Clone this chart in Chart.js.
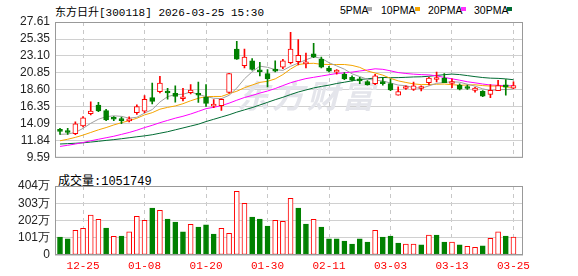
<!DOCTYPE html>
<html>
<head>
<meta charset="utf-8">
<script src="https://cdn.jsdelivr.net/npm/chart.js@4.4.1/dist/chart.umd.min.js"></script>
<style>
  body { margin: 0; background: #fff; width: 578px; height: 276px; overflow: hidden; position: relative; }
  canvas { position: absolute; left: 0; }
  #kline { top: 0; }
  #vol { top: 170px; }
  .txt { position: absolute; white-space: nowrap; color: #000; line-height: 1; }
  #title { left: 55px; top: 3px; font: 11px "Liberation Mono", "Noto Sans CJK SC", monospace; }
  .lg { top: 4px; font: 10.5px "Liberation Sans", Arial, sans-serif; }
  .sq { position: absolute; top: 7px; width: 5px; height: 4px; }
  #volTitle { left: 58px; top: 171px; font: 12px "Liberation Mono", "Noto Sans CJK SC", monospace; }
</style>
</head>
<body>
<div class="txt" id="title">东方日升[300118] 2026-03-25 15:30</div>
<div class="txt lg" style="left:340px">5PMA</div><div class="sq" style="left:367px;background:#a8a8a8"></div>
<div class="txt lg" style="left:381px">10PMA</div><div class="sq" style="left:415px;background:#f5a500"></div>
<div class="txt lg" style="left:428px">20PMA</div><div class="sq" style="left:461px;background:#ff30ff"></div>
<div class="txt lg" style="left:474px">30PMA</div><div class="sq" style="left:507px;background:#006b33"></div>
<div class="txt" id="volTitle">成交量:1051749</div>
<canvas id="kline" width="578" height="170"></canvas>
<canvas id="vol" width="578" height="106"></canvas>
<script>
// Trading days shown
const dates = ['12-22','12-23','12-24','12-25','12-26','12-29','12-30','12-31','01-05','01-06',
  '01-07','01-08','01-09','01-12','01-13','01-14','01-15','01-16','01-19','01-20',
  '01-21','01-22','01-23','01-26','01-27','01-28','01-29','01-30','02-02','02-03',
  '02-04','02-05','02-06','02-09','02-10','02-11','02-12','02-13','02-24','02-25',
  '02-26','02-27','03-02','03-03','03-04','03-05','03-06','03-09','03-10','03-11',
  '03-12','03-13','03-16','03-17','03-18','03-19','03-20','03-23','03-24','03-25'];
const tickDates = ['12-25','01-08','01-20','01-30','02-11','03-03','03-13','03-25'];

const opens = [13.30,13.15,12.78,13.82,15.45,16.57,15.86,14.82,14.74,14.49,
  15.57,15.78,17.57,18.36,18.40,18.14,17.43,18.22,18.01,17.64,
  16.45,16.51,18.26,24.02,21.81,22.47,21.18,20.76,21.35,21.60,
  22.22,22.35,22.05,23.39,22.68,21.51,20.95,20.68,20.26,19.97,
  19.72,19.43,19.72,19.43,17.89,18.78,18.66,18.78,19.55,19.98,
  20.17,19.45,19.25,18.95,18.54,18.41,18.00,18.50,19.28,18.83];
const highs = [13.50,13.50,14.36,15.07,17.03,16.94,16.03,15.07,14.99,15.03,
  16.61,17.86,19.52,20.40,18.82,19.14,18.80,19.30,19.64,19.30,
  17.30,17.43,20.80,25.06,24.02,22.76,22.26,21.31,22.47,22.64,
  26.23,25.27,23.47,24.77,22.97,21.72,21.31,20.89,20.47,20.26,
  19.85,20.68,20.26,20.05,19.01,19.15,19.63,19.15,20.28,20.97,
  20.77,20.08,19.39,19.25,18.95,18.50,19.29,19.88,19.96,19.66];
const lows = [12.70,12.70,12.66,13.70,15.28,15.70,14.53,14.53,14.11,14.36,
  15.36,15.57,16.74,18.19,17.36,16.97,17.13,18.05,16.93,16.40,
  16.25,15.88,18.18,22.64,21.51,21.22,20.47,19.01,20.97,21.43,
  22.06,21.93,21.51,22.89,21.51,20.97,20.68,19.97,19.80,19.43,
  19.22,19.30,19.22,18.51,17.89,18.66,18.54,18.46,19.27,19.67,
  19.55,18.91,18.60,18.66,18.29,17.70,17.57,18.50,17.91,18.75];
const closes = [13.10,12.95,14.11,14.90,15.78,15.82,14.61,14.70,14.53,14.61,
  16.40,17.36,17.07,19.52,18.19,17.72,17.59,18.59,17.89,16.80,
  16.60,17.34,20.76,22.68,22.97,21.31,21.01,20.05,21.10,22.47,
  24.02,23.18,22.22,22.97,21.60,21.10,21.02,20.05,19.89,19.80,
  19.30,20.47,19.43,18.59,18.39,18.94,19.15,18.99,20.16,20.10,
  19.55,19.60,18.70,18.79,18.84,17.78,18.54,19.16,18.95,19.16];

// Moving averages
const ma5 = [12.70,12.75,12.95,13.50,14.17,14.71,15.04,15.16,15.09,14.85,
  14.97,15.52,15.99,16.99,17.71,17.97,18.02,18.32,18.00,17.72,
  17.49,17.44,17.88,18.84,20.07,21.01,21.75,21.60,21.29,21.19,
  21.73,22.16,22.60,22.97,22.80,22.21,21.78,21.35,20.73,20.37,
  20.01,19.90,19.78,19.52,19.24,19.16,18.90,18.81,19.13,19.47,
  19.59,19.68,19.62,19.35,19.10,18.74,18.53,18.62,18.65,18.72];
const ma10 = [11.85,12.05,12.30,12.60,12.95,13.30,13.60,13.95,14.25,14.51,
  14.84,15.28,15.58,16.04,16.28,16.47,16.77,17.16,17.49,17.71,
  17.73,17.73,18.10,18.42,18.89,19.25,19.60,19.74,20.06,20.63,
  21.37,21.96,22.10,22.13,21.99,21.97,21.97,21.97,21.85,21.59,
  21.11,20.84,20.56,20.13,19.80,19.59,19.40,19.30,19.32,19.35,
  19.38,19.29,19.22,19.24,19.28,19.17,19.11,19.12,19.00,18.91];
const ma20 = [11.10,11.25,11.42,11.62,11.85,12.05,12.25,12.45,12.70,12.95,
  13.25,13.60,13.90,14.25,14.55,14.85,15.10,15.40,15.75,16.11,
  16.29,16.51,16.84,17.23,17.59,17.86,18.18,18.45,18.78,19.17,
  19.55,19.84,20.10,20.27,20.44,20.61,20.78,20.86,20.96,21.11,
  21.24,21.40,21.33,21.13,20.90,20.78,20.69,20.63,20.59,20.47,
  20.25,20.07,19.89,19.68,19.54,19.38,19.25,19.21,19.16,19.13];
const ma30 = [11.42,11.47,11.52,11.58,11.68,11.78,11.90,12.00,12.12,12.25,
  12.38,12.50,12.65,12.85,13.05,13.30,13.55,13.80,14.05,14.40,
  14.70,15.00,15.30,15.65,15.95,16.25,16.60,16.95,17.30,17.62,
  17.98,18.32,18.59,18.86,19.06,19.23,19.45,19.62,19.80,19.98,
  20.07,20.18,20.25,20.22,20.23,20.27,20.32,20.34,20.41,20.52,
  20.62,20.70,20.63,20.50,20.36,20.24,20.16,20.13,20.06,19.95];

// Volume in 万 shares
const volumes = [105,94,144,156,234,209,158,109,111,135,
  226,203,275,262,211,193,135,180,164,176,
  123,156,127,373,302,222,211,170,203,197,
  332,275,181,209,164,94,94,82,64,94,
  76,144,105,111,70,64,64,59,117,117,
  76,76,59,51,45,53,98,135,111,105.1749];

const priceTicks = [9.59, 11.84, 14.09, 16.35, 18.60, 20.85, 23.10, 25.35, 27.61];
const volTicks = [0, 101, 202, 303, 404];

const RED = '#ff0000';
const GREEN = '#008000';
const idx = dates.map((d, i) => i);
const up = idx.map(i => closes[i] >= opens[i]);
const volUp = idx.map(i => i === 0 ? closes[0] >= opens[0] : closes[i] >= closes[i - 1]);

// gray frame round the plot area
const frame = {
  id: 'frame',
  afterDraw(chart) {
    const { ctx, chartArea: a } = chart;
    ctx.save();
    ctx.strokeStyle = '#999';
    ctx.lineWidth = 1;
    ctx.strokeRect(a.left + 0.5, a.top + 0.5, a.right - a.left - 1, a.bottom - a.top - 1);
    ctx.restore();
  }
};

const watermark = {
  id: 'watermark',
  beforeDatasetsDraw(chart) {
    const ctx = chart.ctx;
    ctx.save();
    ctx.fillStyle = '#e4e5eb';
    ctx.font = 'italic bold 32px "Noto Sans CJK SC"';
    ctx.letterSpacing = '3px';
    ctx.textBaseline = 'alphabetic';
    ctx.fillText('东方财富', 237, 108);
    ctx.restore();
  }
};

function xAxis(showLabels) {
  return {
    type: 'linear',
    min: -0.65,
    max: 60.24,
    offset: false,
    afterBuildTicks: s => { s.ticks = tickDates.map(d => ({ value: dates.indexOf(d) })); },
    afterFit: s => { s.height = showLabels ? 21 : 0; },
    ticks: {
      display: showLabels,
      autoSkip: false,
      maxRotation: 0,
      padding: 4,
      color: RED,
      font: { family: 'Liberation Mono', size: 11 },
      callback: v => dates[v]
    },
    grid: { color: '#c8c8c8', drawTicks: false, offset: false },
    border: { display: false, dash: [4, 4] }
  };
}

function yAxis(min, max, tickVals, fmt) {
  return {
    min: min,
    max: max,
    afterBuildTicks: s => { s.ticks = tickVals.map(v => ({ value: v })); },
    afterFit: s => { s.width = 55; },
    ticks: {
      color: '#222',
      padding: 5,
      autoSkip: false,
      font: { family: 'Liberation Sans', size: 12 },
      callback: fmt
    },
    grid: { color: '#d0d0d0', drawTicks: false },
    border: { display: false }
  };
}

const maLine = (vals, color) => ({
  type: 'line',
  data: idx.map(i => ({ x: i, y: vals[i] })),
  borderColor: color,
  borderWidth: 1,
  pointRadius: 0,
  fill: false,
  tension: 0
});

new Chart(document.getElementById('kline'), {
  type: 'bar',
  data: {
    datasets: [
      {
        // candle bodies
        data: idx.map(i => ({ x: i, y: [opens[i], closes[i]] })),
        backgroundColor: up.map(u => u ? '#ffffff' : GREEN),
        borderColor: up.map(u => u ? RED : GREEN),
        borderWidth: 1,
        borderSkipped: false,
        barThickness: 5,
        minBarLength: 2,
        grouped: false
      },
      {
        // wicks
        data: idx.map(i => ({ x: i, y: [lows[i], highs[i]] })),
        backgroundColor: up.map(u => u ? RED : GREEN),
        barThickness: 1,
        grouped: false
      },
      maLine(ma5, '#a0a0a0'),
      maLine(ma10, '#f5a500'),
      maLine(ma20, '#ff00ff'),
      maLine(ma30, '#006b33')
    ]
  },
  options: {
    responsive: false,
    animation: false,
    devicePixelRatio: 1,
    layout: { padding: { top: 22, right: 55, bottom: 5, left: 0 } },
    plugins: { legend: { display: false }, tooltip: { enabled: false } },
    scales: {
      x: xAxis(false),
      y: yAxis(9.59, 27.61, priceTicks, v => v.toFixed(2))
    }
  },
  plugins: [watermark, frame]
});

new Chart(document.getElementById('vol'), {
  type: 'bar',
  data: {
    datasets: [{
      data: idx.map(i => ({ x: i, y: volumes[i] })),
      backgroundColor: volUp.map(u => u ? '#ffffff' : GREEN),
      borderColor: volUp.map(u => u ? RED : GREEN),
      borderWidth: 1,
      borderSkipped: false,
      barThickness: 5
    }]
  },
  options: {
    responsive: false,
    animation: false,
    devicePixelRatio: 1,
    layout: { padding: { top: 16, right: 55, bottom: 0, left: 0 } },
    plugins: { legend: { display: false }, tooltip: { enabled: false } },
    scales: {
      x: xAxis(true),
      y: yAxis(0, 404, volTicks, v => v === 0 ? '0' : v + '万')
    }
  },
  plugins: [frame]
});
</script>
</body>
</html>
